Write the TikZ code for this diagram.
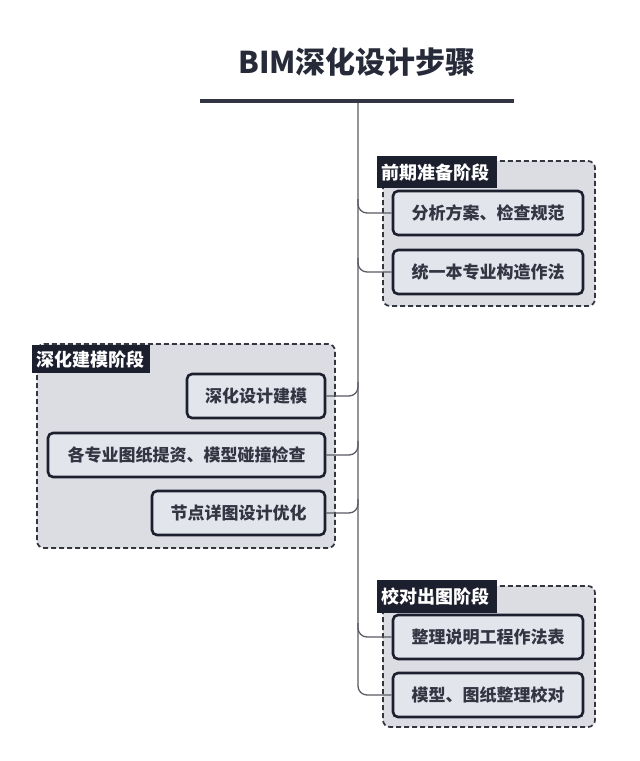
\documentclass[tikz,border=0pt]{standalone}
\usepackage{fontspec}
\setmainfont{Noto Sans CJK SC}
\usetikzlibrary{calc}
\definecolor{navy}{HTML}{1C1F2E}
\definecolor{itemfill}{HTML}{E3E5EC}
\definecolor{grpfill}{HTML}{DCDDE3}
\definecolor{grpline}{HTML}{34363F}
\definecolor{connc}{HTML}{5A5C64}
\tikzset{
  grp/.style={draw=grpline, fill=grpfill, dash pattern=on 5pt off 3pt, line width=1.7pt, rounded corners=7pt},
  lbl/.style={fill=navy, text=white, font=\fontsize{18}{18}\selectfont\bfseries, inner xsep=4pt, inner ysep=0pt,
    anchor=north west, align=left, text width=112pt},
  item/.style={draw=navy, fill=itemfill, line width=2.6pt, rounded corners=5pt, minimum height=44pt, inner sep=0pt,
    font=\fontsize{17}{17}\selectfont\bfseries, text=navy!90!white},
  conn/.style={draw=connc, line width=1.3pt, rounded corners=9pt},
}
\begin{document}
\begin{tikzpicture}[x=1pt,y=-1pt]
\useasboundingbox (0,0) rectangle (640,761);
\fill[white] (0,0) rectangle (640,761);
% title
\node[font=\fontsize{30}{30}\selectfont\bfseries, text=navy!95!white] (title) at (357,62) {BIM深化设计步骤};
\coordinate (hl) at (200,101);
\coordinate (hr) at (514,101);
\coordinate (top) at (358,101);
% group boxes
\draw[grp] (383,161) rectangle (595,306);
\draw[grp] (37,344) rectangle (335,548);
\draw[grp] (383,586) rectangle (595,727);
% labels
\node[lbl, minimum height=32pt] (l1) at (377,156) {前期准备阶段};
\node[lbl, minimum height=28pt, text width=110pt] (l2) at (32,345) {深化建模阶段};
\node[lbl, minimum height=33pt] (l3) at (377,580) {校对出图阶段};
% items
\node[item, minimum width=190pt] (a1) at (488,213) {分析方案、检查规范};
\node[item, minimum width=190pt] (a2) at (488,272) {统一本专业构造作法};
\node[item, minimum width=138pt] (b1) at (256,396) {深化设计建模};
\node[item, minimum width=277pt] (b2) at (186.5,455) {各专业图纸提资、模型碰撞检查};
\node[item, minimum width=173pt] (b3) at (238.5,513) {节点详图设计优化};
\node[item, minimum width=190pt] (c1) at (488,637) {整理说明工程作法表};
\node[item, minimum width=190pt] (c2) at (488,695) {模型、图纸整理校对};
% connectors
\draw[conn] (top) |- (c2.west);
\draw[conn] ($(top |- a1.west)+(0,-14)$) |- (a1.west);
\draw[conn] ($(top |- a2.west)+(0,-14)$) |- (a2.west);
\draw[conn] ($(top |- b1.east)+(0,-14)$) |- (b1.east);
\draw[conn] ($(top |- b2.east)+(0,-14)$) |- (b2.east);
\draw[conn] ($(top |- b3.east)+(0,-14)$) |- (b3.east);
\draw[conn] ($(top |- c1.west)+(0,-14)$) |- (c1.west);
% title rule
\draw[line width=4pt, draw=navy!90!white] (hl) -- (hr);
\end{tikzpicture}
\end{document}
